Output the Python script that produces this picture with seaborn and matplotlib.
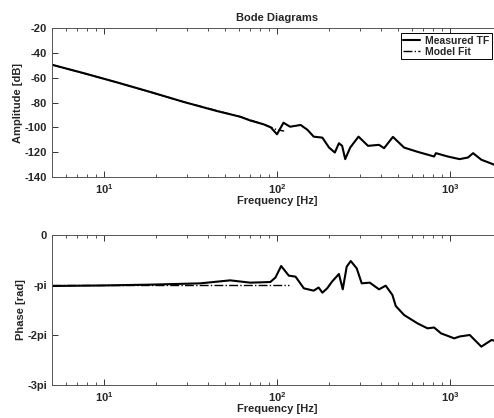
import numpy as np
import pandas as pd
import matplotlib
matplotlib.use("Agg")
import matplotlib.pyplot as plt
import seaborn as sns
from matplotlib.ticker import LogLocator, NullFormatter

# ---- data ----
amp_freq = [5, 7.6, 11.8, 18.5, 28.8, 45, 61.4, 70, 83.8, 92, 100, 109, 119, 137,
            150, 163, 183, 200, 216, 228, 238, 248, 265, 296, 336, 389, 416, 468,
            543, 649, 810, 830, 971, 1137, 1272, 1361, 1519, 1650, 1825]
amp_db = [-49.6, -56.3, -63.7, -71.5, -79.5, -86.9, -91.5, -94.5, -97.6, -100, -105.6,
          -96.3, -99.5, -98.1, -102, -107.5, -108.3, -116.3, -120.3, -112.8, -114.9,
          -125.6, -116.3, -107.5, -114.9, -114.1, -116.8, -107.7, -116.3, -119.7,
          -123.5, -120.8, -123.5, -125.6, -124.3, -120.8, -126.1, -128, -130.4]

fit_amp_freq = [5, 11.8, 28.8, 61.4, 83.8, 100, 110]
fit_amp_db = [-49.6, -63.7, -79.5, -91.5, -97.6, -102, -103]

ph_freq = [5, 9.5, 18.5, 36, 53.6, 70, 80, 91.5, 98, 105.7, 117, 128, 143, 163, 174,
           183, 195, 208, 228, 240, 253, 267, 289, 309, 344, 389, 425, 465, 486, 543,
           649, 742, 810, 888, 1059, 1137, 1302, 1519, 1740, 1850]
ph_pi = [-1.02, -1.01, -0.993, -0.967, -0.907, -0.953, -0.947, -0.94, -0.85, -0.62,
         -0.813, -0.833, -1.067, -1.113, -1.05, -1.153, -1.067, -0.933, -0.78, -1.087,
         -0.633, -0.52, -0.667, -0.967, -0.953, -1.087, -1.013, -1.2, -1.42, -1.6,
         -1.767, -1.867, -1.85, -1.967, -2.067, -2.03, -2.0, -2.233, -2.1, -2.12]

fit_ph_freq = [5, 10, 30, 60, 100, 117]
fit_ph_pi = [-1.007, -1.007, -1.007, -1.007, -1.007, -1.007]

amp_ticks = [-140, -120, -100, -80, -60, -40, -20]
ph_ticks = [0, -1, -2, -3]
ph_ticklabels = ["0", "-pi", "-2pi", "-3pi"]

# ---- style ----
sns.set_style("ticks")
plt.rcParams["font.family"] = ["Liberation Sans", "DejaVu Sans"]
plt.rcParams["font.weight"] = "bold"
plt.rcParams["axes.unicode_minus"] = False
plt.rcParams["mathtext.fontset"] = "custom"
plt.rcParams["mathtext.rm"] = "Liberation Sans:bold"
plt.rcParams["mathtext.it"] = "Liberation Sans:bold"

W, H = 494, 418
fig = plt.figure(figsize=(W / 100, H / 100), dpi=100)
fig.patch.set_facecolor("white")

ax1 = fig.add_axes([52 / W, 1 - 177 / H, 450 / W, 149 / H])
ax2 = fig.add_axes([52 / W, 1 - 385 / H, 450 / W, 150 / H])

df_amp = pd.DataFrame({"f": amp_freq, "v": amp_db})
df_famp = pd.DataFrame({"f": fit_amp_freq, "v": fit_amp_db})
df_ph = pd.DataFrame({"f": ph_freq, "v": np.array(ph_pi) * np.pi})
df_fph = pd.DataFrame({"f": fit_ph_freq, "v": np.array(fit_ph_pi) * np.pi})

for ax in (ax1, ax2):
    ax.set_xscale("log")

sns.lineplot(data=df_famp, x="f", y="v", ax=ax1, color="black", lw=1.0,
             linestyle="-.", label="Model Fit", sort=False)
sns.lineplot(data=df_amp, x="f", y="v", ax=ax1, color="black", lw=1.5,
             label="Measured TF", sort=False)
sns.lineplot(data=df_fph, x="f", y="v", ax=ax2, color="black", lw=1.0,
             linestyle="-.", sort=False, legend=False)
sns.lineplot(data=df_ph, x="f", y="v", ax=ax2, color="black", lw=1.5,
             sort=False, legend=False)

fs = 8
for ax in (ax1, ax2):
    ax.set_xlim(5, 2000)
    ax.xaxis.set_major_locator(LogLocator(base=10, numticks=10))
    ax.xaxis.set_minor_locator(LogLocator(base=10, subs=np.arange(2, 10), numticks=20))
    ax.xaxis.set_minor_formatter(NullFormatter())
    ax.tick_params(which="both", direction="in", top=True, right=True,
                   labelsize=fs, color="#333333")
    ax.tick_params(which="major", length=4, width=0.7)
    ax.tick_params(which="minor", length=2, width=0.6)
    ax.set_xlabel("Frequency [Hz]", fontsize=fs, labelpad=0, fontweight="bold")
    for s in ax.spines.values():
        s.set_linewidth(0.7)
        s.set_color("#555555")

ax1.set_ylim(-140, -20)
ax1.set_yticks(amp_ticks)
ax1.set_ylabel("Amplitude [dB]", fontsize=fs, labelpad=1, fontweight="bold")
ax1.set_title("Bode Diagrams", fontsize=fs, pad=5, fontweight="bold")

ax2.set_ylim(-3 * np.pi, 0)
ax2.set_yticks(np.array(ph_ticks) * np.pi)
ax2.set_yticklabels(ph_ticklabels)
ax2.set_ylabel("Phase [rad]", fontsize=fs, labelpad=1, fontweight="bold")

h, l = ax1.get_legend_handles_labels()
order = [l.index("Measured TF"), l.index("Model Fit")]
ax1.legend([h[i] for i in order], [l[i] for i in order],
           loc="upper right", bbox_to_anchor=(492 / W, 1 - 33 / H),
           bbox_transform=fig.transFigure, borderaxespad=0, fontsize=7.5,
           frameon=True, fancybox=False, edgecolor="black", framealpha=1,
           labelspacing=0.1, borderpad=0.25, handlelength=1.6, handletextpad=0.5)
ax1.get_legend().get_frame().set_linewidth(0.7)

fig.savefig("out.png", dpi=100, facecolor="white")
